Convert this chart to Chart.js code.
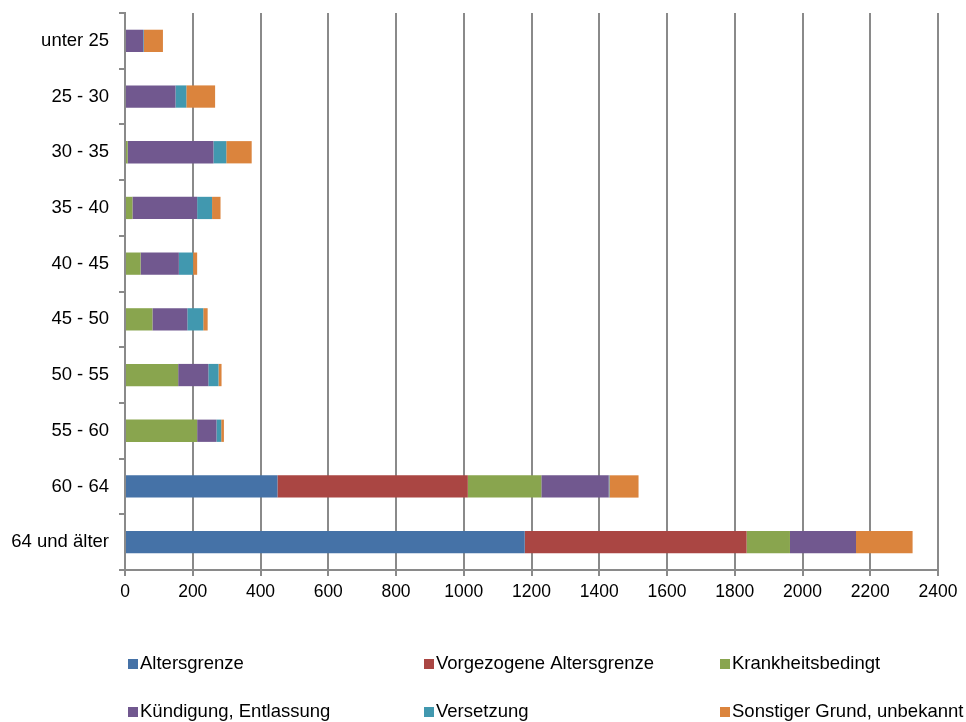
<!DOCTYPE html>
<html>
<head>
<meta charset="utf-8">
<script src="https://cdn.jsdelivr.net/npm/chart.js@4/dist/chart.umd.min.js"></script>
<style>
    html, body { margin: 0; padding: 0; background: #fff; }
    #wrap { width: 966px; height: 722px; }
</style>
</head>
<body>
<div id="wrap"><canvas id="chart" width="966" height="722"></canvas></div>
<script>
// Age groups, top to bottom
const ageGroups = ['unter 25', '25 - 30', '30 - 35', '35 - 40', '40 - 45', '45 - 50', '50 - 55', '55 - 60', '60 - 64', '64 und älter'];

// Values per reason
const altersgrenze = [0, 0, 0, 0, 0, 0, 0, 0, 450, 1180];
const vorgezogen = [0, 0, 0, 0, 0, 0, 0, 0, 562, 655];
const krankheit = [0, 0, 8, 22, 46, 81, 157, 213, 217, 128];
const kuendigung = [54, 149, 253, 191, 113, 103, 89, 57, 199, 195];
const versetzung = [2, 32, 38, 44, 42, 47, 30, 14, 2, 0];
const sonstiger = [56, 85, 75, 25, 12, 13, 9, 8, 86, 167];

const xTicks = [0, 200, 400, 600, 800, 1000, 1200, 1400, 1600, 1800, 2000, 2200, 2400];

const colors = {
    blue: '#4572a7',
    red: '#aa4643',
    green: '#89a54e',
    purple: '#71588f',
    teal: '#4198af',
    orange: '#db843d',
    grid: '#8a8a8a'
};

const family = "'Liberation Sans', Arial, sans-serif";
const labelFont = { family: family, size: 18.5 };
const tickFont = { family: family, size: 17.5 };

function series(label, data, color) {
    return {
        label: label,
        data: data,
        backgroundColor: color,
        borderWidth: 0,
        barPercentage: 0.4,
        categoryPercentage: 1
    };
}

// Legend drawn in three columns, two rows, like the original
const gridLegend = {
    id: 'gridLegend',
    afterDraw(chart) {
        const ctx = chart.ctx;
        const cols = [128, 424, 720];
        const rows = [664, 712];
        ctx.save();
        ctx.font = `${labelFont.size}px ${family}`;
        ctx.textBaseline = 'middle';
        ctx.textAlign = 'left';
        chart.data.datasets.forEach((ds, i) => {
            const x = cols[i % 3];
            const y = rows[Math.floor(i / 3)];
            ctx.fillStyle = ds.backgroundColor;
            ctx.fillRect(x, y - 5, 10, 10);
            ctx.fillStyle = '#000';
            ctx.fillText(ds.label, x + 12, y);
        });
        ctx.restore();
    }
};

new Chart(document.getElementById('chart'), {
    type: 'bar',
    data: {
        labels: ageGroups,
        datasets: [
            series('Altersgrenze', altersgrenze, colors.blue),
            series('Vorgezogene Altersgrenze', vorgezogen, colors.red),
            series('Krankheitsbedingt', krankheit, colors.green),
            series('Kündigung, Entlassung', kuendigung, colors.purple),
            series('Versetzung', versetzung, colors.teal),
            series('Sonstiger Grund, unbekannt', sonstiger, colors.orange)
        ]
    },
    options: {
        indexAxis: 'y',
        responsive: false,
        animation: false,
        layout: { padding: { top: 13, right: 28, bottom: 112, left: 0 } },
        plugins: {
            legend: { display: false },
            tooltip: { enabled: false }
        },
        scales: {
            x: {
                stacked: true,
                min: 0,
                max: 2400,
                afterBuildTicks: (scale) => { scale.ticks = xTicks.map(v => ({ value: v })); },
                afterFit: (scale) => { scale.height = 40; },
                ticks: { color: '#000', font: tickFont, padding: 6, maxRotation: 0, callback: (v) => String(v) },
                grid: { color: colors.grid, lineWidth: 2, tickLength: 6 },
                border: { color: colors.grid, width: 2 }
            },
            y: {
                stacked: true,
                afterFit: (scale) => {
                    scale.width = 125;
                    scale.paddingTop = 0;
                    scale.paddingBottom = 0;
                },
                ticks: { color: '#000', font: labelFont, padding: 10 },
                grid: { offset: true, drawOnChartArea: false, color: colors.grid, lineWidth: 2, tickLength: 6 },
                border: { color: colors.grid, width: 2 }
            }
        }
    },
    plugins: [gridLegend]
});
</script>
</body>
</html>
